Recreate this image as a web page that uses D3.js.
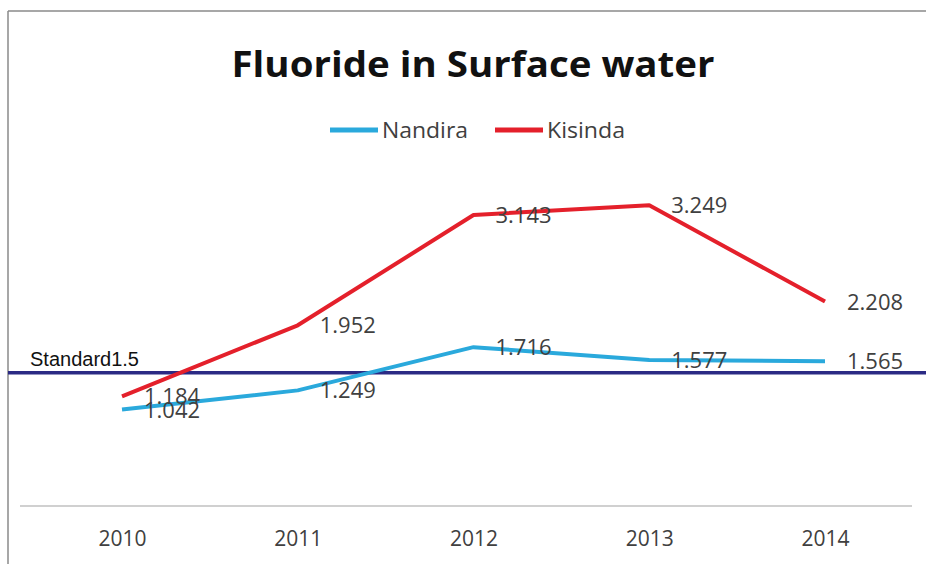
<!DOCTYPE html>
<html>
<head>
<meta charset="utf-8">
<script src="https://cdn.jsdelivr.net/npm/d3@7"></script>
<style>
  body { margin: 0; background: #fff; }
  svg { display: block; }
</style>
</head>
<body>
<svg id="chart"></svg>
<script>
// data
var years = ["2010", "2011", "2012", "2013", "2014"];
var nandira = [1.042, 1.249, 1.716, 1.577, 1.565];
var kisinda = [1.184, 1.952, 3.143, 3.249, 2.208];
var seriesNames = ["Nandira", "Kisinda"];
var standardLabel = "Standard1.5";
var standardLevel = 1.44; // where the drawn line actually sits

var width = 926, height = 564;
var svg = d3.select("#chart").attr("width", width).attr("height", height);

var colors = { Nandira: "#2aa9dc", Kisinda: "#e4202b" };
var textColor = "#404040";

var x = d3.scalePoint().domain(years).range([122, 825]);
var y = d3.scaleLinear().domain([0, 3.5]).range([506, 182]);

// frame (cropped chart area)
svg.append("line").attr("x1", 8).attr("x2", width).attr("y1", 11).attr("y2", 11)
    .attr("stroke", "#8a8a8a").attr("stroke-width", 1.5);
svg.append("line").attr("x1", 8).attr("x2", 8).attr("y1", 11).attr("y2", height)
    .attr("stroke", "#8a8a8a").attr("stroke-width", 1.5);

// title
svg.append("text")
    .attr("x", 473).attr("y", 77)
    .attr("text-anchor", "middle")
    .attr("font-family", "Open Sans")
    .attr("font-weight", "bold")
    .attr("font-size", 36)
    .attr("textLength", 483)
    .attr("lengthAdjust", "spacingAndGlyphs")
    .attr("fill", "#111")
    .text("Fluoride in Surface water");

// legend
var legendPos = [330, 495];
seriesNames.forEach(function(name, i) {
    var lx = legendPos[i];
    svg.append("line").attr("x1", lx).attr("x2", lx + 48).attr("y1", 130).attr("y2", 130)
        .attr("stroke", colors[name]).attr("stroke-width", 5);
    svg.append("text").attr("x", lx + 52).attr("y", 138)
        .attr("font-family", "Open Sans").attr("font-size", 21)
        .attr("fill", textColor)
        .attr("textLength", i == 0 ? 86 : 78)
        .attr("lengthAdjust", "spacingAndGlyphs")
        .text(name);
});

// x axis
var xAxis = svg.append("g")
    .attr("transform", "translate(0," + y(0) + ")")
    .call(d3.axisBottom(x).tickSize(0).tickPadding(25));
xAxis.select(".domain").attr("d", "M20,0H912").attr("stroke", "#c0c0c0").attr("stroke-width", 1.5);
xAxis.selectAll("text")
    .attr("font-family", "Open Sans").attr("font-size", 21)
    .attr("fill", textColor);

// standard line
svg.append("line")
    .attr("x1", 8).attr("x2", width)
    .attr("y1", y(standardLevel)).attr("y2", y(standardLevel))
    .attr("stroke", "#2b2a84").attr("stroke-width", 3.5);
svg.append("text")
    .attr("x", 30).attr("y", y(standardLevel) - 7)
    .attr("font-family", "Liberation Sans").attr("font-size", 20)
    .attr("fill", "#111")
    .text(standardLabel);

// series lines
var line = d3.line()
    .x(function(d, i) { return x(years[i]); })
    .y(function(d) { return y(d); });

var seriesData = { Nandira: nandira, Kisinda: kisinda };

seriesNames.forEach(function(name) {
    svg.append("path")
        .datum(seriesData[name])
        .attr("fill", "none")
        .attr("stroke", colors[name])
        .attr("stroke-width", 4)
        .attr("stroke-linejoin", "round")
        .attr("d", line);
});

// data labels
seriesNames.forEach(function(name) {
    svg.selectAll(".lbl-" + name)
        .data(seriesData[name])
        .enter()
        .append("text")
        .attr("x", function(d, i) { return x(years[i]) + 22; })
        .attr("y", function(d) { return y(d) + 8; })
        .attr("font-family", "Open Sans").attr("font-size", 22)
        .attr("fill", textColor)
        .text(function(d) { return d3.format(".3f")(d); });
});
</script>
</body>
</html>
